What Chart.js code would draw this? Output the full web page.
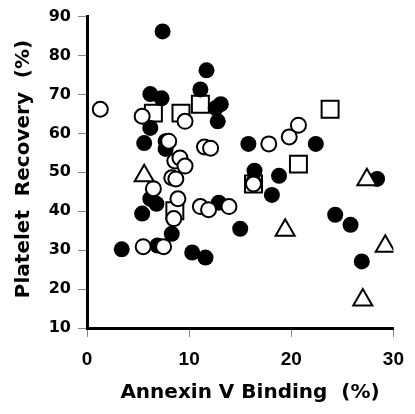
<!DOCTYPE html>
<html>
<head>
<meta charset="utf-8">
<script src="https://cdn.jsdelivr.net/npm/chart.js@4.4.1/dist/chart.umd.min.js"></script>
<style>
  body { margin: 0; background: #fff; }
</style>
</head>
<body>
<canvas id="grafico" width="415" height="414"></canvas>
<script>
// pontos: [Annexin V %, Platelet Recovery %]
const filledCircles = [
  [7.4, 86.2], [11.7, 76.2], [6.2, 70.1], [7.3, 69.0], [11.1, 71.3],
  [13.1, 67.5], [12.6, 66.5], [12.8, 63.1], [6.2, 61.4], [5.6, 57.5],
  [7.7, 58.0], [7.7, 56.0], [15.8, 57.3], [22.4, 57.3], [16.4, 50.4],
  [16.3, 47.5], [18.8, 49.1], [18.1, 44.2], [28.4, 48.3], [24.3, 39.1],
  [25.8, 36.5], [15.0, 35.5], [26.9, 27.1], [11.6, 28.1], [10.3, 29.4],
  [3.4, 30.2], [6.9, 31.2], [8.3, 34.2], [5.4, 39.4], [6.2, 43.2],
  [6.8, 41.9], [12.9, 42.2]
];
const openCircles = [
  [1.3, 66.2], [5.4, 64.4], [9.6, 63.1], [8.0, 58.0], [11.5, 56.5],
  [12.1, 56.2], [17.8, 57.3], [19.8, 59.1], [20.7, 62.1], [8.6, 52.9],
  [9.1, 53.7], [9.6, 51.6], [8.3, 48.6], [8.7, 48.3], [6.5, 45.8],
  [8.9, 43.2], [8.5, 38.1], [5.5, 30.9], [7.5, 30.9], [11.1, 41.2],
  [11.9, 40.4], [13.9, 41.2], [16.3, 47.0]
];
const openSquares = [
  [6.5, 65.2], [9.2, 65.2], [11.1, 67.5], [23.8, 66.2], [20.7, 52.1],
  [16.3, 47.0], [8.6, 40.1]
];
const openTriangles = [
  [5.6, 49.1], [27.4, 48.1], [19.4, 35.1], [29.2, 31.0], [27.0, 17.2]
];

const xTicks = [0, 10, 20, 30];
const yTicks = [10, 20, 30, 40, 50, 60, 70, 80, 90];
const xTitle = 'Annexin V Binding  (%)';
const yTitle = 'Platelet  Recovery  (%)';

function pts(lista) {
  return lista.map(p => ({ x: p[0], y: p[1] }));
}

const fonte = 'Liberation Sans, Arial, sans-serif';
const fonteLarga = 'DejaVu Sans, sans-serif';

// titulos dos eixos desenhados a mao para acertar a posicao
const titulosEixos = {
  id: 'titulosEixos',
  afterDraw(chart) {
    const ctx = chart.ctx;
    ctx.save();
    ctx.fillStyle = '#000';
    ctx.font = 'bold 20px ' + fonteLarga;
    ctx.textAlign = 'center';
    ctx.textBaseline = 'middle';
    ctx.fillText(xTitle, 250, 393);
    ctx.translate(24, 169);
    ctx.rotate(-Math.PI / 2);
    ctx.fillText(yTitle, 0, 0);
    ctx.restore();
  }
};

new Chart(document.getElementById('grafico'), {
  type: 'scatter',
  data: {
    datasets: [
      {
        label: 'triangles',
        data: pts(openTriangles),
        pointStyle: 'triangle',
        pointRadius: 11,
        backgroundColor: '#fff',
        borderColor: '#000',
        borderWidth: 2,
        order: 0
      },
      {
        label: 'open',
        data: pts(openCircles),
        pointStyle: 'circle',
        pointRadius: 7.5,
        backgroundColor: '#fff',
        borderColor: '#000',
        borderWidth: 2,
        order: 1
      },
      {
        label: 'filled',
        data: pts(filledCircles),
        pointStyle: 'circle',
        pointRadius: 8,
        backgroundColor: '#000',
        borderColor: '#000',
        borderWidth: 0,
        order: 2
      },
      {
        label: 'squares',
        data: pts(openSquares),
        pointStyle: 'rect',
        pointRadius: 12,
        backgroundColor: '#fff',
        borderColor: '#000',
        borderWidth: 2,
        order: 3
      }
    ]
  },
  plugins: [titulosEixos],
  options: {
    responsive: false,
    animation: false,
    layout: { padding: { top: 15, right: 15, left: 0, bottom: 0 } },
    plugins: {
      legend: { display: false },
      tooltip: { enabled: false }
    },
    scales: {
      x: {
        type: 'linear',
        min: 0,
        max: 30,
        afterBuildTicks: s => { s.ticks = xTicks.map(v => ({ value: v })); },
        afterFit: s => { s.height = 86; },
        grid: { display: true, drawOnChartArea: false, drawTicks: true, tickLength: 9, color: '#888', lineWidth: 1 },
        border: { display: true, color: '#000', width: 3 },
        ticks: { color: '#000', padding: 11, font: { family: fonte, size: 19, weight: 'bold' } }
      },
      y: {
        type: 'linear',
        min: 10,
        max: 90,
        afterBuildTicks: s => { s.ticks = yTicks.map(v => ({ value: v })); },
        afterFit: s => { s.width = 87; },
        grid: { display: true, drawOnChartArea: false, drawTicks: true, tickLength: 9, color: '#888', lineWidth: 1 },
        border: { display: true, color: '#000', width: 3 },
        ticks: { color: '#000', padding: 7, font: { family: fonteLarga, size: 16, weight: 'bold' } }
      }
    }
  }
});
</script>
</body>
</html>
